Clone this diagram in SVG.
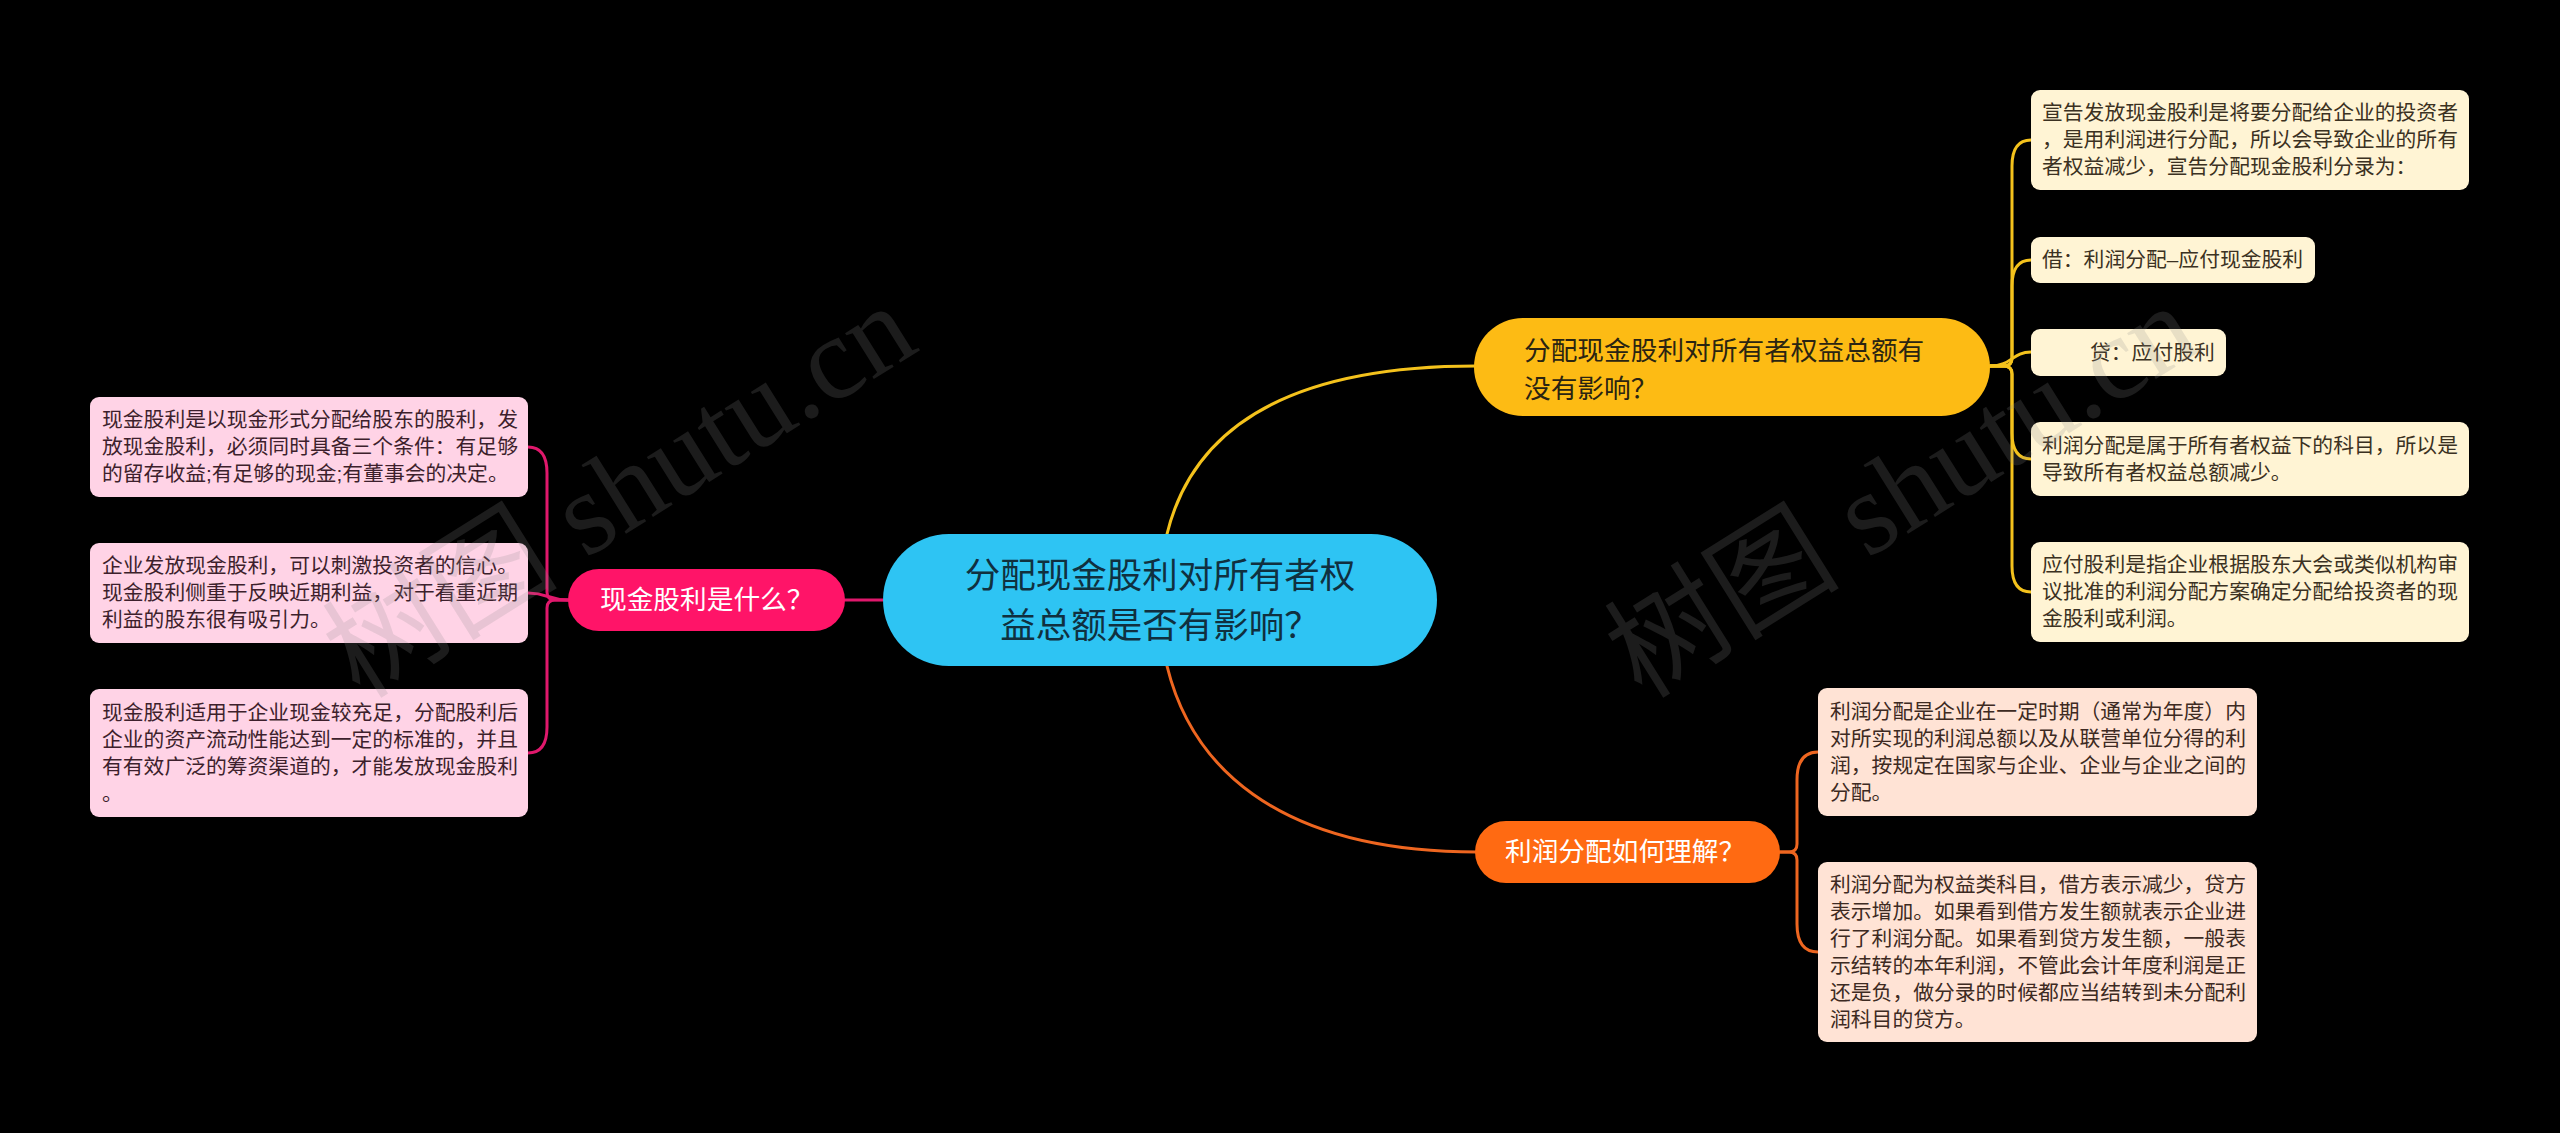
<svg xmlns="http://www.w3.org/2000/svg" width="2560" height="1133" viewBox="0 0 2560 1133">
<style>
text{font-family:"Liberation Sans","Noto Sans CJK SC",sans-serif;}
.root{font-size:35.5px;fill:#10303f;text-anchor:middle;}
.l1{font-size:26.7px;}
.leaf{font-size:20.8px;}
.ly{fill:#FFF4D4;}
.lp{fill:#FFD3E6;}
.lo{fill:#FFE3D5;}
.ty{fill:#3b3122;}
.tp{fill:#3d1f2c;}
.to{fill:#3d2a22;}
.c{fill:none;stroke-width:3;stroke-linecap:round;}
.cy{stroke:#F4C21C;}
.co{stroke:#EE6620;}
.cp{stroke:#E0186C;}
.wm{font-family:"Liberation Serif","Noto Sans CJK SC",serif;font-size:118px;fill:#8c8c8c;fill-opacity:0.2;}
</style>
<rect width="2560" height="1133" fill="#000"/>
<g id="connectors">
<path class="c cy" d="M1167,534 C1190,440 1270,366 1476,366"/>
<path class="c co" d="M1167,666 C1190,760 1270,852 1477,852"/>
<path class="c cp" d="M883,600 H845"/>
<path class="c cy" d="M1990,366 H2004 Q2012,366 2012,358 V166 Q2012,140 2031,140"/>
<path class="c cy" d="M1990,366 H2004 Q2012,366 2012,358 V286 Q2012,260 2031,260"/>
<path class="c cy" d="M1990,366 C2012,366 2012,352 2031,352"/>
<path class="c cy" d="M1990,366 H2004 Q2012,366 2012,374 V433 Q2012,459 2031,459"/>
<path class="c cy" d="M1990,366 H2004 Q2012,366 2012,374 V566 Q2012,592 2031,592"/>
<path class="c co" d="M1780,852 H1789 Q1797,852 1797,844 V780 Q1797,752 1818,752"/>
<path class="c co" d="M1780,852 H1789 Q1797,852 1797,860 V924 Q1797,952 1818,952"/>
<path class="c cp" d="M568,600 H555 Q547,600 547,592 V473 Q547,447 528,447"/>
<path class="c cp" d="M568,600 C548,600 548,593 528,593"/>
<path class="c cp" d="M568,600 H555 Q547,600 547,608 V727 Q547,753 528,753"/>
</g>
<g id="root">
<rect x="883" y="534" width="554" height="132" rx="66" fill="#2EC4F3"/>
<text class="root" x="1160" y="588">分配现金股利对所有者权</text>
<text class="root" x="1160" y="638">益总额是否有影响？</text>
</g>
<g id="n-yellow">
<rect x="1474" y="318" width="516" height="98" rx="49" fill="#FDBB14"/>
<text class="l1" fill="#2a2412" x="1524" y="360">分配现金股利对所有者权益总额有</text>
<text class="l1" fill="#2a2412" x="1524" y="398">没有影响？</text>
</g>
<g id="n-orange">
<rect x="1475" y="821" width="305" height="62" rx="31" fill="#FF6A12"/>
<text class="l1" fill="#fff" x="1505" y="861">利润分配如何理解？</text>
</g>
<g id="n-pink">
<rect x="568" y="569" width="277" height="62" rx="31" fill="#FF1468"/>
<text class="l1" fill="#fff" x="600" y="609">现金股利是什么？</text>
</g>
<g id="y1">
<rect class="ly" x="2031" y="90" width="438" height="100" rx="9"/>
<text class="leaf ty" x="2042"><tspan x="2042" y="120">宣告发放现金股利是将要分配给企业的投资者</tspan><tspan x="2042" y="147">，是用利润进行分配，所以会导致企业的所有</tspan><tspan x="2042" y="174">者权益减少，宣告分配现金股利分录为：</tspan></text>
</g>
<g id="y2">
<rect class="ly" x="2031" y="237" width="284" height="46" rx="9"/>
<text class="leaf ty" x="2042" y="267">借：利润分配–应付现金股利</text>
</g>
<g id="y3">
<rect class="ly" x="2031" y="329" width="195" height="47" rx="9"/>
<text class="leaf ty" x="2090" y="360">贷：应付股利</text>
</g>
<g id="y4">
<rect class="ly" x="2031" y="422" width="438" height="74" rx="9"/>
<text class="leaf ty"><tspan x="2042" y="453">利润分配是属于所有者权益下的科目，所以是</tspan><tspan x="2042" y="480">导致所有者权益总额减少。</tspan></text>
</g>
<g id="y5">
<rect class="ly" x="2031" y="542" width="438" height="100" rx="9"/>
<text class="leaf ty"><tspan x="2042" y="572">应付股利是指企业根据股东大会或类似机构审</tspan><tspan x="2042" y="599">议批准的利润分配方案确定分配给投资者的现</tspan><tspan x="2042" y="626">金股利或利润。</tspan></text>
</g>
<g id="o1">
<rect class="lo" x="1818" y="688" width="439" height="128" rx="9"/>
<text class="leaf to"><tspan x="1830" y="719">利润分配是企业在一定时期（通常为年度）内</tspan><tspan x="1830" y="746">对所实现的利润总额以及从联营单位分得的利</tspan><tspan x="1830" y="773">润，按规定在国家与企业、企业与企业之间的</tspan><tspan x="1830" y="800">分配。</tspan></text>
</g>
<g id="o2">
<rect class="lo" x="1818" y="862" width="439" height="180" rx="9"/>
<text class="leaf to"><tspan x="1830" y="892">利润分配为权益类科目，借方表示减少，贷方</tspan><tspan x="1830" y="919">表示增加。如果看到借方发生额就表示企业进</tspan><tspan x="1830" y="946">行了利润分配。如果看到贷方发生额，一般表</tspan><tspan x="1830" y="973">示结转的本年利润，不管此会计年度利润是正</tspan><tspan x="1830" y="1000">还是负，做分录的时候都应当结转到未分配利</tspan><tspan x="1830" y="1027">润科目的贷方。</tspan></text>
</g>
<g id="p1">
<rect class="lp" x="90" y="397" width="438" height="100" rx="9"/>
<text class="leaf tp"><tspan x="102" y="427">现金股利是以现金形式分配给股东的股利，发</tspan><tspan x="102" y="454">放现金股利，必须同时具备三个条件：有足够</tspan><tspan x="102" y="481">的留存收益;有足够的现金;有董事会的决定。</tspan></text>
</g>
<g id="p2">
<rect class="lp" x="90" y="543" width="438" height="100" rx="9"/>
<text class="leaf tp"><tspan x="102" y="573">企业发放现金股利，可以刺激投资者的信心。</tspan><tspan x="102" y="600">现金股利侧重于反映近期利益，对于看重近期</tspan><tspan x="102" y="627">利益的股东很有吸引力。</tspan></text>
</g>
<g id="p3">
<rect class="lp" x="90" y="689" width="438" height="128" rx="9"/>
<text class="leaf tp"><tspan x="102" y="720">现金股利适用于企业现金较充足，分配股利后</tspan><tspan x="102" y="747">企业的资产流动性能达到一定的标准的，并且</tspan><tspan x="102" y="774">有有效广泛的筹资渠道的，才能发放现金股利</tspan><tspan x="102" y="801">。</tspan></text>
</g>
<g id="watermark">
<text class="wm" transform="translate(360,700) rotate(-32)">树图 shutu.cn</text>
<text class="wm" transform="translate(1642,700) rotate(-32)">树图 shutu.cn</text>
</g>
</svg>
